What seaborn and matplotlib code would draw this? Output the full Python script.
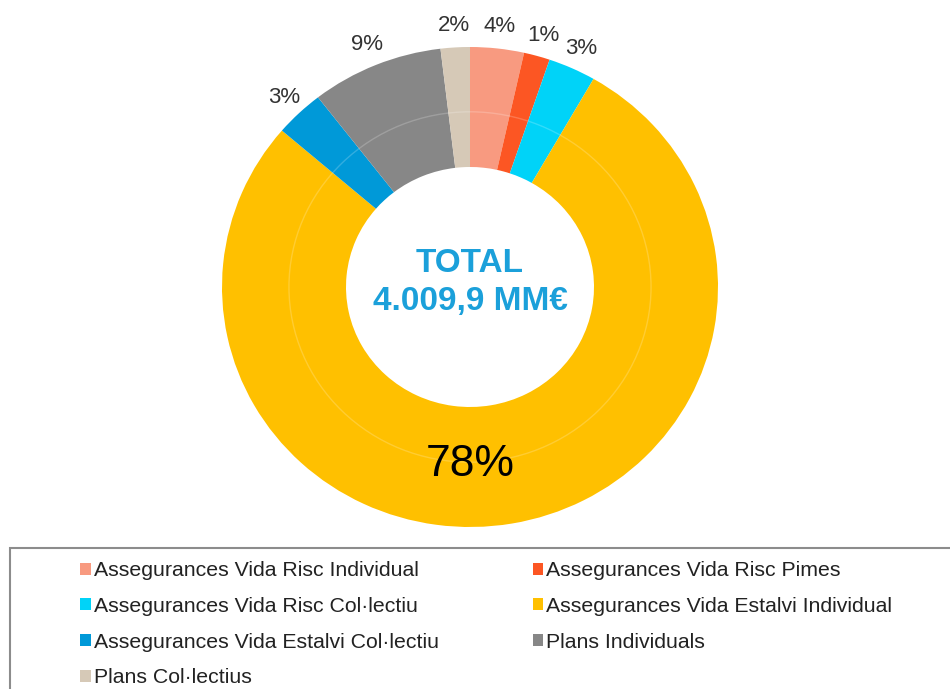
import matplotlib
matplotlib.use("Agg")
import matplotlib.pyplot as plt
from matplotlib.patches import Rectangle
import numpy as np
import seaborn as sns

# Data (shares of total, clockwise from 12 o'clock)
categories = [
    "Assegurances Vida Risc Individual",
    "Assegurances Vida Risc Pimes",
    "Assegurances Vida Risc Col·lectiu",
    "Assegurances Vida Estalvi Individual",
    "Assegurances Vida Estalvi Col·lectiu",
    "Plans Individuals",
    "Plans Col·lectius",
]
shares = [3.5, 1.7, 3.1, 78.0, 3.2, 8.6, 1.9]
pct_labels = ["4%", "1%", "3%", "78%", "3%", "9%", "2%"]
total_label = "TOTAL\n4.009,9 MM€"

colors = sns.color_palette(["#F89A80", "#FC5623", "#00D3F8", "#FFC000",
                            "#0099D8", "#878787", "#D6C9B7"])

sns.set_theme(style="white")
plt.rcParams["font.family"] = ["Liberation Sans", "DejaVu Sans"]

fig = plt.figure(figsize=(9.5, 6.89), dpi=100)
# donut is slightly wider than tall in the original
ax = fig.add_axes([222 / 950, 162 / 689, 496 / 950, 480 / 689])

wedges, _ = ax.pie(shares, colors=colors, startangle=90, counterclock=False,
                   radius=1.0, wedgeprops=dict(width=0.5, linewidth=0))
ax.set_xlim(-1, 1)
ax.set_ylim(-1, 1)
ax.set_aspect("auto")
ax.axis("off")

# faint ring highlight
ring = plt.Circle((0, 0), 0.73, fill=False, color="white", lw=1, alpha=0.2)
ax.add_patch(ring)

# percentage labels
cum = np.cumsum([0] + shares)
for i, lab in enumerate(pct_labels):
    if shares[i] > 50:
        ax.text(0, -0.74, lab, ha="center", va="center", fontsize=32,
                color="black")
    else:
        mid = np.radians(90 - (cum[i] + cum[i + 1]) / 2 * 3.6)
        r = 1.09
        ax.text(r * np.cos(mid), r * np.sin(mid), lab, ha="center",
                va="center", fontsize=16, color="#333333")

ax.text(0, 0.02, total_label, ha="center", va="center", fontsize=24,
        fontweight="bold", color="#1BA0DA", linespacing=1.3)

# legend box (runs off the bottom/right of the picture)
fig.patches.append(Rectangle((10 / 950, -0.05), 1.0, 1 - 548 / 689 + 0.05,
                             transform=fig.transFigure, fill=False,
                             edgecolor="#8C8C8C", linewidth=1.5))

order = [0, 2, 4, 6, 1, 3, 5]
leg = fig.legend([wedges[i] for i in order], [categories[i] for i in order],
                 loc="upper left", bbox_to_anchor=(74 / 950, 1 - 555 / 689),
                 ncol=2, fontsize=15.3, frameon=False, handlelength=0.5,
                 handleheight=0.5, handletextpad=0.15, labelspacing=0.78,
                 columnspacing=4.4, borderpad=0.3, borderaxespad=0)
for t in leg.get_texts():
    t.set_color("#222222")

fig.savefig("out.png", dpi=100)
